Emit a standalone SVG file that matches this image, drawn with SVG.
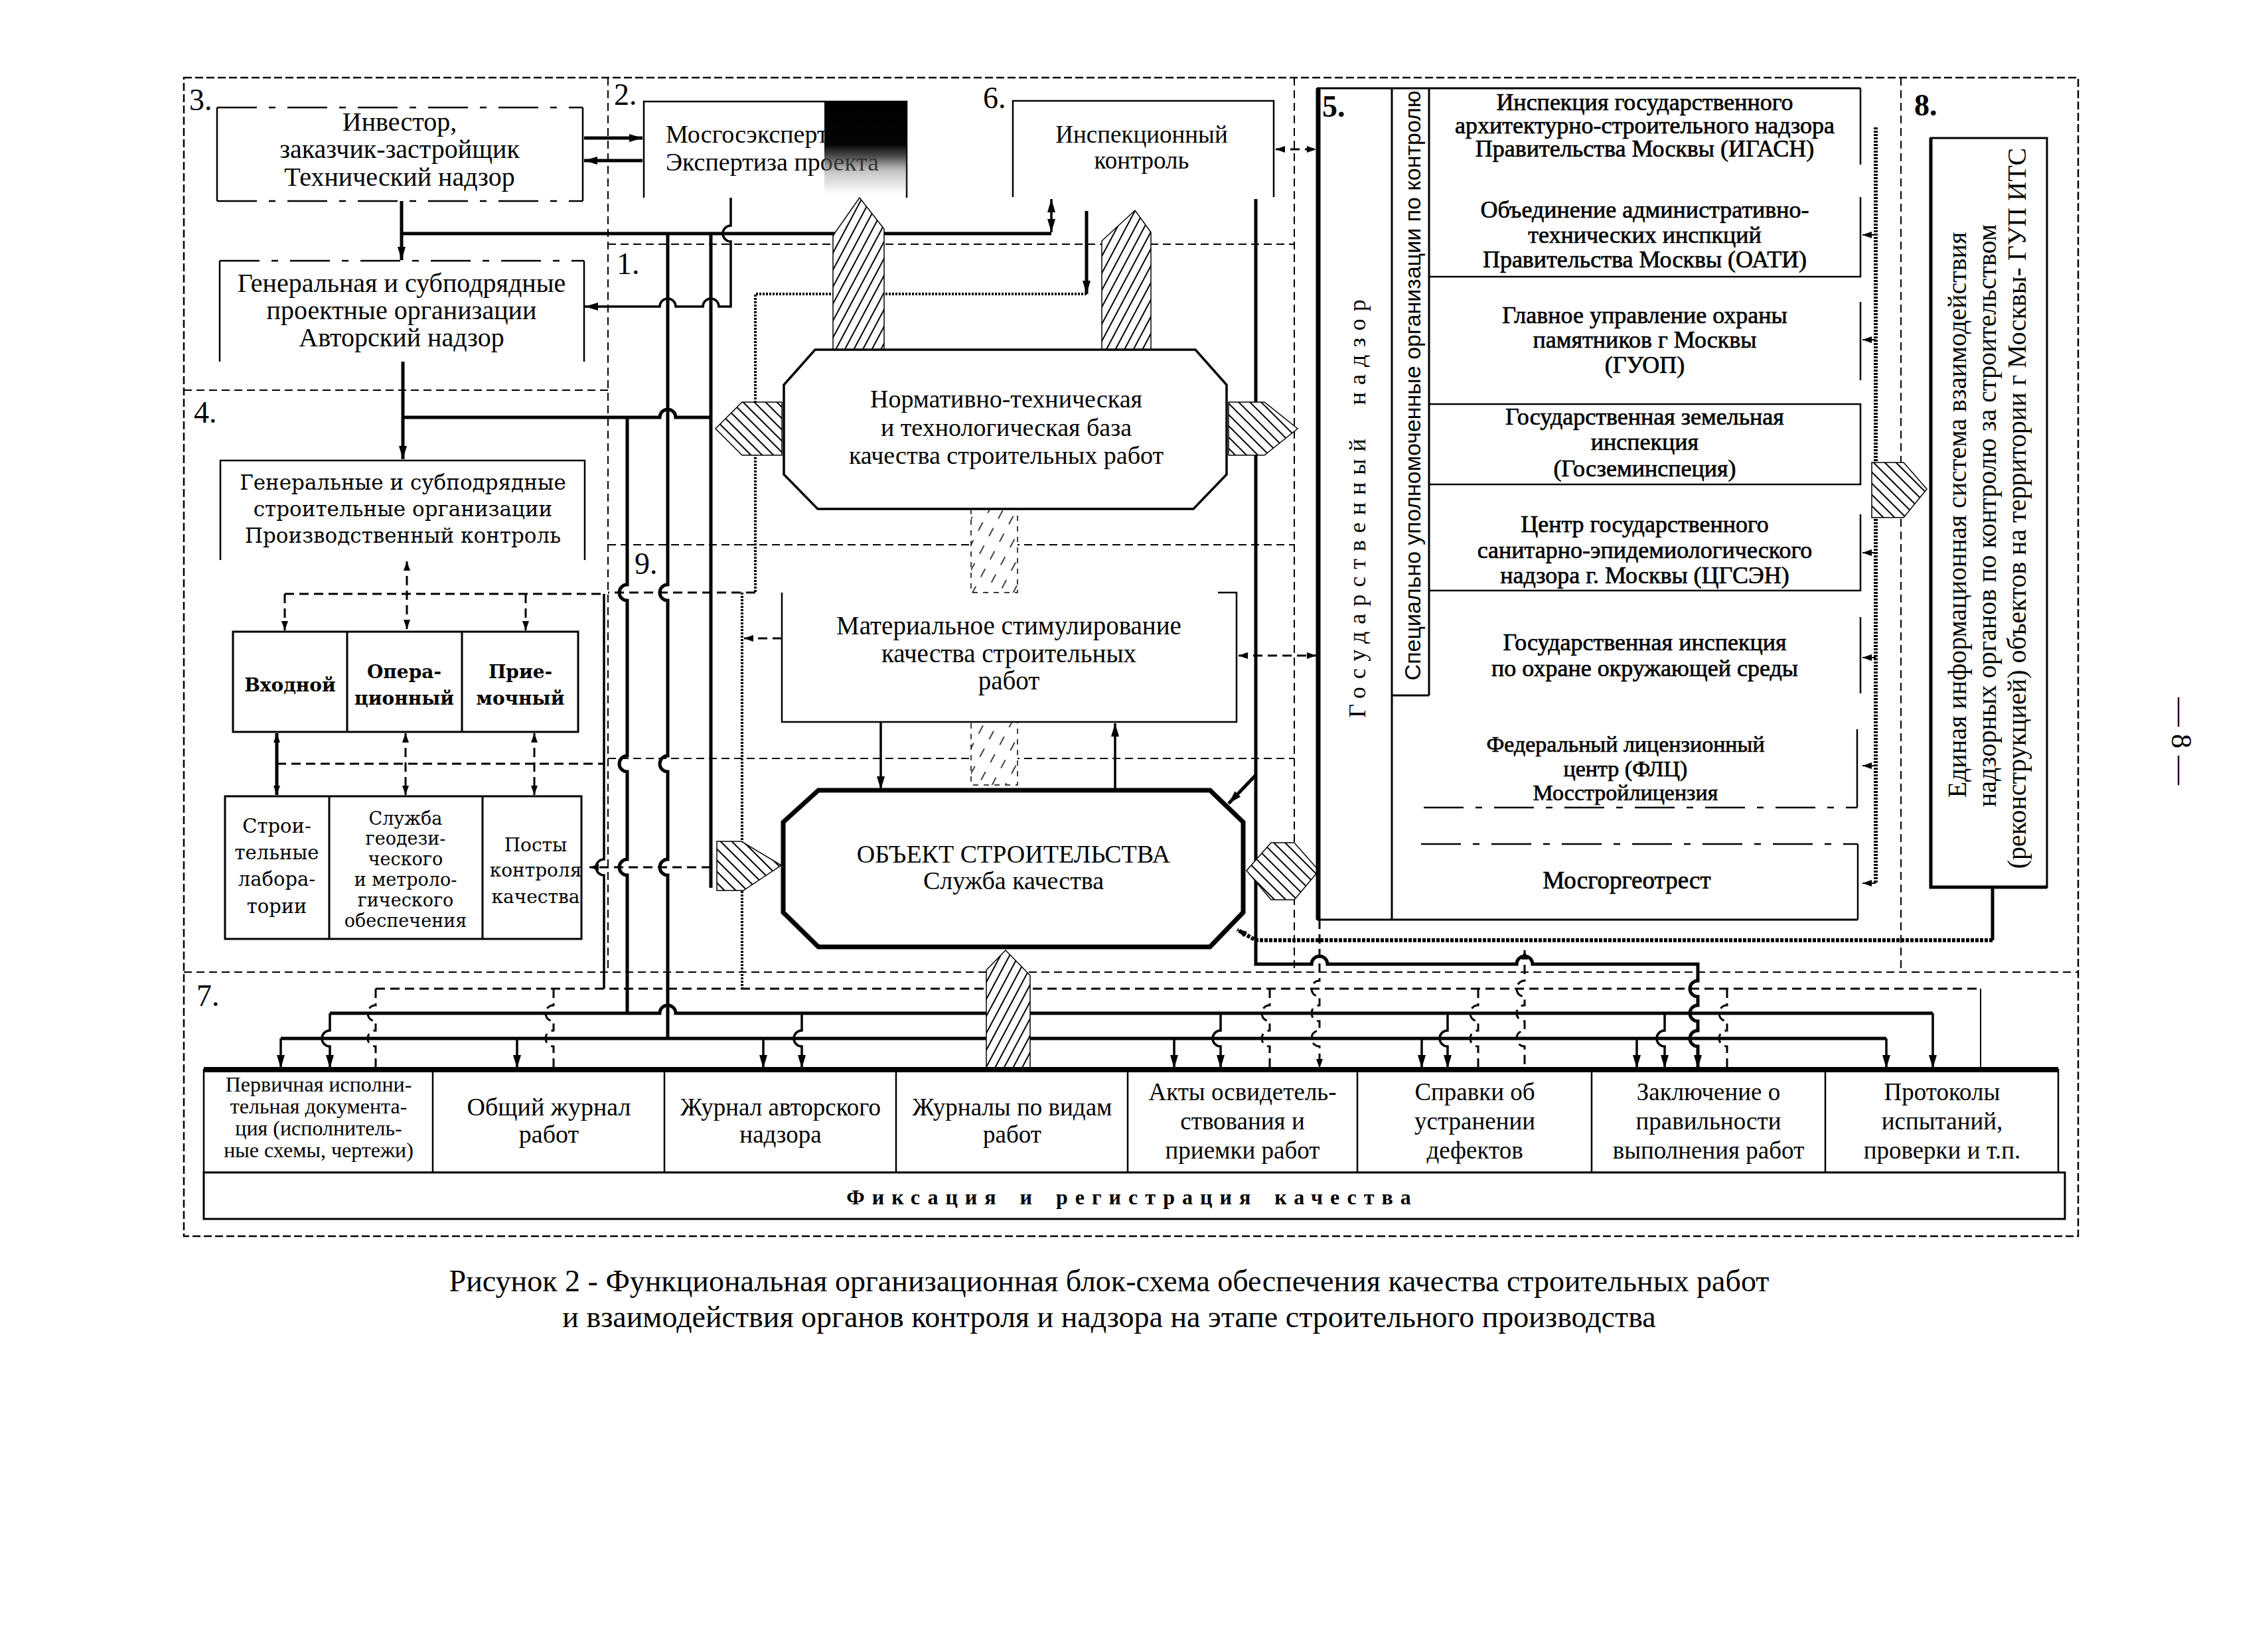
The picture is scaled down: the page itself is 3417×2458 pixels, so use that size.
<svg xmlns="http://www.w3.org/2000/svg" width="3417" height="2458" viewBox="0 0 3417 2458">
<defs>
<style>
.frame{fill:none;stroke:#000;stroke-width:2.5;stroke-dasharray:12 5}
.sep{fill:none;stroke:#000;stroke-width:2;stroke-dasharray:12 7}
.edge{fill:none;stroke:#000;stroke-width:2.5}
.edgeD{fill:none;stroke:#000;stroke-width:2.5;stroke-dasharray:60 18 10 18}
.oct{fill:#fff;stroke:#000;stroke-width:3.5}
.octB{fill:#fff;stroke:#000;stroke-width:7}
.w{fill:none;stroke:#000;stroke-width:5}
.m{fill:none;stroke:#000;stroke-width:3.5}
.t{fill:none;stroke:#000;stroke-width:2}
.dsh{fill:none;stroke:#000;stroke-width:3;stroke-dasharray:14 8}
.dot{fill:none;stroke:#000;stroke-width:4;stroke-dasharray:3 2}
.dotW{fill:none;stroke:#000;stroke-width:6;stroke-dasharray:5 2}
.hs{fill:url(#hs);stroke:#000;stroke-width:1.5}
.hb{fill:url(#hb);stroke:#000;stroke-width:1.5}
.hl{fill:url(#hl);stroke:#000;stroke-width:1.5;stroke-dasharray:8 8}
.ser{font-family:"Liberation Serif","Times New Roman",serif;fill:#000}
.wide{font-family:"DejaVu Serif","Liberation Serif",serif;fill:#000}
.sans{font-family:"Liberation Sans",Arial,sans-serif;fill:#000}
.c{text-anchor:middle}
.hv{stroke:#000;stroke-width:0.7}
.lbl{font-family:"Liberation Serif","Times New Roman",serif;font-size:46px;fill:#000}
</style>
<marker id="ah" viewBox="0 0 20 12" refX="20" refY="6" markerWidth="20" markerHeight="12" markerUnits="userSpaceOnUse" orient="auto-start-reverse"><path d="M0,0 L20,6 L0,12 z" fill="#000"/></marker>
<marker id="as" viewBox="0 0 14 10" refX="14" refY="5" markerWidth="14" markerHeight="10" markerUnits="userSpaceOnUse" orient="auto-start-reverse"><path d="M0,0 L14,5 L0,10 z" fill="#000"/></marker>
<pattern id="hs" patternUnits="userSpaceOnUse" width="12" height="12" patternTransform="rotate(28)"><rect width="12" height="12" fill="#fff"/><line x1="3" y1="0" x2="3" y2="12" stroke="#000" stroke-width="2"/></pattern>
<pattern id="hb" patternUnits="userSpaceOnUse" width="12" height="12" patternTransform="rotate(-45)"><rect width="12" height="12" fill="#fff"/><line x1="3" y1="0" x2="3" y2="12" stroke="#000" stroke-width="2"/></pattern>
<pattern id="hl" patternUnits="userSpaceOnUse" width="18" height="30" patternTransform="rotate(28)"><rect width="18" height="30" fill="#fff"/><line x1="3" y1="0" x2="3" y2="14" stroke="#000" stroke-width="1.5"/></pattern>
<linearGradient id="blob" x1="0" y1="0" x2="0" y2="1"><stop offset="0" stop-color="#000"/><stop offset="0.45" stop-color="#050505"/><stop offset="0.58" stop-color="#333" stop-opacity="0.85"/><stop offset="0.72" stop-color="#777" stop-opacity="0.45"/><stop offset="0.88" stop-color="#aaa" stop-opacity="0.25"/><stop offset="1" stop-color="#fff" stop-opacity="0"/></linearGradient>
</defs>
<rect x="0" y="0" width="3417" height="2458" fill="#fff"/>

<g id="frames">
<rect class="frame" x="277" y="117" width="2854" height="1746"/>
<path class="sep" d="M916,117 V1465 M277,588 H916 M916,368 H1950 M916,821 H1950 M916,1143 H1950 M1950,117 V1465 M2864,117 V1465 M277,1465 H3131"/>
<text class="lbl" x="285" y="166">3.</text>
<text class="lbl" x="925" y="158">2.</text>
<text class="lbl" x="1481" y="163">6.</text>
<text class="lbl" x="929" y="413">1.</text>
<text class="lbl" x="292" y="637">4.</text>
<text class="lbl" x="956" y="865">9.</text>
<text class="lbl" x="296" y="1516">7.</text>
<text class="lbl" x="1992" y="176" font-weight="bold">5.</text>
<text class="lbl" x="2884" y="174" font-weight="bold">8.</text>
</g>

<g id="connectors">
<path class="w" d="M880,208 H968" marker-end="url(#ah)"/>
<path class="w" d="M968,242 H880" marker-end="url(#ah)"/>
<path class="w" d="M605,303 V392" marker-end="url(#ah)"/>
<path class="w" d="M605,352 H1584"/>
<path class="m" d="M1584,350 V300" marker-start="url(#ah)" marker-end="url(#ah)"/>
<path class="w" d="M1006,352 V881 A12,12 0 0 0 1006,905 V1139 A12,12 0 0 0 1006,1163 V1295 A12,12 0 0 0 1006,1319 V1565"/>
<path class="w" d="M945,629 V881 A12,12 0 0 0 945,905 V1139 A12,12 0 0 0 945,1163 V1295 A12,12 0 0 0 945,1319 V1527"/>
<path class="w" d="M1071,352 V1338"/>
<path class="w" d="M607,629 H994 A12,12 0 0 1 1018,629 H1071"/>
<path class="m" d="M1101,298 V340 A12,12 0 0 0 1101,364 V462 H1083 A12,12 0 0 0 1059,462 H1018 A12,12 0 0 0 994,462 H881" marker-end="url(#ah)"/>
<path class="w" d="M607,545 V692" marker-end="url(#ah)"/>
<path class="dsh" d="M613,846 V948" marker-start="url(#as)" marker-end="url(#as)"/>
<path class="dsh" d="M429,895 H910 M1138,893 H916"/>
<path class="dsh" d="M429,895 V950" marker-end="url(#as)"/>
<path class="dsh" d="M792,895 V950" marker-end="url(#as)"/>
<path class="m" d="M910,895 V1295 A12,12 0 0 0 910,1319 V1490"/>
<path class="w" d="M417,1105 V1198" marker-start="url(#as)" marker-end="url(#as)"/>
<path class="dsh" d="M611,1105 V1198" marker-start="url(#as)" marker-end="url(#as)"/>
<path class="dsh" d="M805,1105 V1198" marker-start="url(#as)" marker-end="url(#as)"/>
<path class="dsh" d="M417,1151 H910"/>
<path class="dsh" d="M1071,1307 H888" marker-end="url(#as)"/>
<path class="w" d="M1637,318 V443" marker-end="url(#ah)"/>
<path class="dot" d="M1637,443 H1138 V893"/>
<path class="dot" d="M1118,893 V1490"/>
<path class="dsh" d="M1178,962 H1121" marker-end="url(#as)"/>
<path class="m" d="M1327,1088 V1190" marker-end="url(#ah)"/>
<path class="m" d="M1680,1191 V1090" marker-end="url(#ah)"/>
<path class="dsh" d="M1866,988 H1983" marker-start="url(#as)" marker-end="url(#as)"/>
<path class="dsh" d="M1922,225 H1983" marker-start="url(#as)" marker-end="url(#as)"/>
<path class="w" d="M1892,300 V1453 H1976 A12,12 0 0 1 2000,1453 H2285 A12,12 0 0 1 2309,1453 H2558 V1478 A12,12 0 0 0 2558,1502 V1515 A12,12 0 0 0 2558,1539 V1553 A12,12 0 0 0 2558,1577 V1610" marker-end="url(#ah)"/>
<path class="w" d="M1892,1168 L1851,1211" marker-end="url(#ah)"/>
<path class="w" d="M3002,1338 V1417"/>
<path class="dotW" d="M3002,1417 H1892 L1864,1401" marker-end="url(#as)"/>
<path class="dsh" d="M1988,1386 V1478 A12,12 0 0 0 1988,1502 V1515 A12,12 0 0 0 1988,1539 V1553 A12,12 0 0 0 1988,1577 V1610" marker-end="url(#as)"/>
<path class="dsh" d="M2297,1432 V1478 A12,12 0 0 0 2297,1502 V1515 A12,12 0 0 0 2297,1539 V1553 A12,12 0 0 0 2297,1577 V1610" marker-start="url(#as)"/>
<path class="dsh" d="M566,1490 H2984"/>
<path class="t" d="M2984,1490 V1610"/>
<path class="dsh" d="M566,1490 V1515 A12,12 0 0 0 566,1539 V1553 A12,12 0 0 0 566,1577 V1610 M834,1490 V1515 A12,12 0 0 0 834,1539 V1553 A12,12 0 0 0 834,1577 V1610 M1913,1490 V1515 A12,12 0 0 0 1913,1539 V1553 A12,12 0 0 0 1913,1577 V1610 M2227,1490 V1515 A12,12 0 0 0 2227,1539 V1553 A12,12 0 0 0 2227,1577 V1610 M2602,1490 V1515 A12,12 0 0 0 2602,1539 V1553 A12,12 0 0 0 2602,1577 V1610"/>
<path class="w" d="M497,1527 H994 A12,12 0 0 1 1018,1527 H2912"/>
<path class="w" d="M423,1565 H2842"/>
<g class="m" marker-end="url(#ah)">
<path d="M497,1527 V1553 A12,12 0 0 0 497,1577 V1610"/>
<path d="M1208,1527 V1553 A12,12 0 0 0 1208,1577 V1610"/>
<path d="M1839,1527 V1553 A12,12 0 0 0 1839,1577 V1610"/>
<path d="M2181,1527 V1553 A12,12 0 0 0 2181,1577 V1610"/>
<path d="M2508,1527 V1553 A12,12 0 0 0 2508,1577 V1610"/>
<path d="M2912,1527 V1610"/>
<path d="M423,1565 V1610"/>
<path d="M779,1565 V1610"/>
<path d="M1150,1565 V1610"/>
<path d="M1769,1565 V1610"/>
<path d="M2142,1565 V1610"/>
<path d="M2466,1565 V1610"/>
<path d="M2842,1565 V1610"/>
</g>
<path class="dot" d="M2826,192 V1331" style="stroke-width:6"/>
<g class="t" marker-end="url(#as)">
<path d="M2826,354 H2806"/><path d="M2826,512 H2806"/><path d="M2826,833 H2806"/><path d="M2826,991 H2806"/><path d="M2826,1154 H2806"/><path d="M2826,1331 H2806"/>
</g>
<polygon class="hs" points="1255,527 1255,355 1295,298 1332,345 1332,527"/>
<polygon class="hs" points="1660,527 1660,363 1710,317 1734,350 1734,527"/>
<polygon class="hb" points="1078,646 1118,606 1178,606 1178,686 1118,686"/>
<polygon class="hb" points="1851,606 1905,606 1955,646 1905,686 1851,686"/>
<rect class="hl" x="1463" y="767" width="70" height="126"/>
<rect class="hl" x="1463" y="1088" width="70" height="95"/>
<polygon class="hb" points="1080,1268 1117,1268 1177,1304 1120,1342 1080,1342"/>
<polygon class="hb" points="1878,1312 1915,1270 1950,1270 1987,1312 1950,1356 1915,1356"/>
<polygon class="hs" points="1486,1612 1486,1462 1515,1432 1552,1470 1552,1612"/>
<polygon class="hb" points="2820,697 2868,697 2903,737 2868,780 2820,780"/>
</g>

<g id="n-investor">
<path class="edge" d="M327,162 V303 M878,162 V303"/>
<path class="edgeD" d="M327,162 H878 M327,303 H878"/>
<text class="ser c" font-size="40" x="602" y="197">Инвестор,</text>
<text class="ser c" font-size="40" x="602" y="238">заказчик-застройщик</text>
<text class="ser c" font-size="40" x="602" y="280">Технический надзор</text>
</g>
<g id="n-proj">
<path class="edge" d="M331,393 V545 M880,393 V545"/>
<path class="edgeD" d="M331,393 H880"/>
<text class="ser c" font-size="40" x="605" y="440">Генеральная и субподрядные</text>
<text class="ser c" font-size="40" x="605" y="481">проектные организации</text>
<text class="ser c" font-size="40" x="605" y="522">Авторский надзор</text>
</g>
<g id="n-mosgos">
<path class="edge" d="M970,298 V153 H1366 V298"/>
<text class="ser" font-size="38" x="1003" y="215">Мосгосэкспертиза</text>
<text class="ser" font-size="38" x="1003" y="257">Экспертиза проекта</text>
<rect x="1242" y="153" width="124" height="145" fill="url(#blob)"/>
</g>
<g id="n-inspect">
<path class="edge" d="M1526,297 V152 H1919 V297"/>
<text class="ser c" font-size="37" x="1720" y="215">Инспекционный</text>
<text class="ser c" font-size="37" x="1720" y="254">контроль</text>
</g>
<g id="n-normative">
<polygon class="oct" points="1228,527 1801,527 1848,580 1848,715 1798,767 1232,767 1181,715 1181,580"/>
<text class="ser c" font-size="38" x="1516" y="614">Нормативно-техническая</text>
<text class="ser c" font-size="38" x="1516" y="657">и технологическая база</text>
<text class="ser c" font-size="38" x="1516" y="699">качества строительных работ</text>
</g>
<g id="n-material">
<path class="edge" d="M1178,893 V1088 H1863 V893 H1835"/>
<text class="ser c" font-size="39" x="1520" y="956">Материальное стимулирование</text>
<text class="ser c" font-size="39" x="1520" y="998">качества строительных</text>
<text class="ser c" font-size="39" x="1520" y="1039">работ</text>
</g>
<g id="n-object">
<polygon class="octB" points="1233,1191 1823,1191 1873,1239 1873,1375 1823,1427 1233,1427 1180,1375 1180,1239"/>
<text class="ser c" font-size="38" x="1527" y="1300">ОБЪЕКТ СТРОИТЕЛЬСТВА</text>
<text class="ser c" font-size="38" x="1527" y="1340">Служба качества</text>
</g>
<g id="n-contractors">
<path class="edge" d="M332,844 V694 H881 V844"/>
<text class="wide c" font-size="31" x="607" y="738">Генеральные и субподрядные</text>
<text class="wide c" font-size="31" x="607" y="778">строительные организации</text>
<text class="wide c" font-size="31" x="607" y="818">Производственный контроль</text>
</g>
<g id="n-control">
<rect x="351" y="952" width="520" height="151" fill="#fff" stroke="#000" stroke-width="3"/>
<path class="edge" d="M523,952 V1103 M696,952 V1103" style="stroke-width:3"/>
<text class="wide c" font-size="28" font-weight="bold" x="437" y="1042">Входной</text>
<text class="wide c" font-size="28" font-weight="bold" x="609" y="1022">Опера-</text>
<text class="wide c" font-size="28" font-weight="bold" x="609" y="1062">ционный</text>
<text class="wide c" font-size="28" font-weight="bold" x="784" y="1022">Прие-</text>
<text class="wide c" font-size="28" font-weight="bold" x="784" y="1062">мочный</text>
</g>
<g id="n-labs">
<rect x="339" y="1200" width="537" height="215" fill="#fff" stroke="#000" stroke-width="3"/>
<path class="edge" d="M496,1200 V1415 M727,1200 V1415" style="stroke-width:3"/>
<text class="wide c" font-size="29" x="417" y="1255">Строи-</text>
<text class="wide c" font-size="29" x="417" y="1295">тельные</text>
<text class="wide c" font-size="29" x="417" y="1335">лабора-</text>
<text class="wide c" font-size="29" x="417" y="1376">тории</text>
<text class="wide c" font-size="27" x="611" y="1243">Служба</text>
<text class="wide c" font-size="27" x="611" y="1273">геодези-</text>
<text class="wide c" font-size="27" x="611" y="1304">ческого</text>
<text class="wide c" font-size="27" x="611" y="1335">и метроло-</text>
<text class="wide c" font-size="27" x="611" y="1366">гического</text>
<text class="wide c" font-size="27" x="611" y="1397">обеспечения</text>
<text class="wide c" font-size="28" x="807" y="1283">Посты</text>
<text class="wide c" font-size="28" x="807" y="1321">контроля</text>
<text class="wide c" font-size="28" x="807" y="1361">качества</text>
</g>

<g id="n-gosnadzor">
<path class="edge" d="M1986,133 V1386" style="stroke-width:7"/>
<path class="edge" d="M1984,133 H2803 M1984,1386 H2799 M2097,133 V1386 M2153,133 V1048 M2097,1048 H2153" style="stroke-width:3"/>
<text class="ser c" font-size="36" letter-spacing="11" word-spacing="20" transform="translate(2057,761) rotate(-90)">Государственный надзор</text>
<text class="sans c" font-size="34" transform="translate(2140,581) rotate(-90)">Специально уполномоченные организации по контролю</text>
</g>
<g id="n-igasn">
<path class="edge" d="M2803,133 V248"/>
<text class="ser c hv" font-size="36" x="2478" y="166">Инспекция государственного</text>
<text class="ser c hv" font-size="36" x="2478" y="201">архитектурно-строительного надзора</text>
<text class="ser c hv" font-size="36" x="2478" y="236">Правительства Москвы (ИГАСН)</text>
</g>
<g id="n-oati">
<path class="edge" d="M2803,297 V417 H2153"/>
<text class="ser c hv" font-size="36" x="2478" y="328">Объединение административно-</text>
<text class="ser c hv" font-size="36" x="2478" y="366">технических инспкций</text>
<text class="ser c hv" font-size="36" x="2478" y="403">Правительства Москвы (ОАТИ)</text>
</g>
<g id="n-guop">
<path class="edge" d="M2803,455 V573"/>
<text class="ser c hv" font-size="36" x="2478" y="487">Главное управление охраны</text>
<text class="ser c hv" font-size="36" x="2478" y="524">памятников г  Москвы</text>
<text class="ser c hv" font-size="36" x="2478" y="562">(ГУОП)</text>
</g>
<g id="n-goszem">
<path class="edge" d="M2153,609 H2803 V730 H2153"/>
<text class="ser c hv" font-size="36" x="2478" y="640">Государственная земельная</text>
<text class="ser c hv" font-size="36" x="2478" y="678">инспекция</text>
<text class="ser c hv" font-size="36" x="2478" y="718">(Госземинспеция)</text>
</g>
<g id="n-cgsen">
<path class="edge" d="M2803,775 V890 H2153"/>
<text class="ser c hv" font-size="36" x="2478" y="802">Центр государственного</text>
<text class="ser c hv" font-size="36" x="2478" y="841">санитарно-эпидемиологического</text>
<text class="ser c hv" font-size="36" x="2478" y="879">надзора г. Москвы (ЦГСЭН)</text>
</g>
<g id="n-eco">
<path class="edge" d="M2803,930 V1045"/>
<text class="ser c hv" font-size="36" x="2478" y="980">Государственная инспекция</text>
<text class="ser c hv" font-size="36" x="2478" y="1019">по охране окружающей среды</text>
</g>
<g id="n-flc">
<path class="edge" d="M2798,1099 V1217"/>
<path class="edgeD" d="M2145,1217 H2798"/>
<text class="ser c hv" font-size="34" x="2449" y="1133">Федеральный лицензионный</text>
<text class="ser c hv" font-size="34" x="2449" y="1170">центр (ФЛЦ)</text>
<text class="ser c hv" font-size="34" x="2449" y="1206">Мосстройлицензия</text>
</g>
<g id="n-geotrest">
<path class="edgeD" d="M2141,1272 H2799"/>
<path class="edge" d="M2799,1272 V1386"/>
<text class="ser c hv" font-size="37" x="2451" y="1339">Мосгоргеотрест</text>
</g>
<g id="n-its">
<rect x="2909" y="208" width="175" height="1129" fill="#fff" stroke="#000" stroke-width="3"/>
<path d="M2909,208 V1337 H3084" fill="none" stroke="#000" stroke-width="5"/>
<text class="ser c" font-size="40" transform="translate(2962,776) rotate(-90)">Единая информационная система взаимодействия</text>
<text class="ser c" font-size="40" transform="translate(3007,777) rotate(-90)">надзорных органов по контролю за строительством</text>
<text class="ser c" font-size="40" transform="translate(3052,766) rotate(-90)">(реконструкцией) объектов на территории г  Москвы- ГУП ИТС</text>
</g>

<g id="n-records">
<rect x="307" y="1612" width="2794" height="155" fill="#fff" stroke="#000" stroke-width="2.5"/>
<path d="M307,1612 H3101" stroke="#000" stroke-width="8"/>
<path class="edge" d="M652,1612 V1767 M1001,1612 V1767 M1350,1612 V1767 M1699,1612 V1767 M2045,1612 V1767 M2398,1612 V1767 M2750,1612 V1767"/>
<text class="ser c" font-size="32" x="480" y="1645">Первичная исполни-</text>
<text class="ser c" font-size="32" x="480" y="1678">тельная документа-</text>
<text class="ser c" font-size="32" x="480" y="1711">ция (исполнитель-</text>
<text class="ser c" font-size="32" x="480" y="1744">ные схемы, чертежи)</text>
<text class="ser c" font-size="38" x="827" y="1681">Общий журнал</text>
<text class="ser c" font-size="38" x="827" y="1722">работ</text>
<text class="ser c" font-size="37" x="1176" y="1681">Журнал авторского</text>
<text class="ser c" font-size="37" x="1176" y="1722">надзора</text>
<text class="ser c" font-size="37" x="1525" y="1681">Журналы по видам</text>
<text class="ser c" font-size="37" x="1525" y="1722">работ</text>
<text class="ser c" font-size="37" x="1872" y="1658">Акты освидетель-</text>
<text class="ser c" font-size="37" x="1872" y="1702">ствования и</text>
<text class="ser c" font-size="37" x="1872" y="1746">приемки работ</text>
<text class="ser c" font-size="37" x="2222" y="1658">Справки об</text>
<text class="ser c" font-size="37" x="2222" y="1702">устранении</text>
<text class="ser c" font-size="37" x="2222" y="1746">дефектов</text>
<text class="ser c" font-size="37" x="2574" y="1658">Заключение о</text>
<text class="ser c" font-size="37" x="2574" y="1702">правильности</text>
<text class="ser c" font-size="37" x="2574" y="1746">выполнения работ</text>
<text class="ser c" font-size="37" x="2926" y="1658">Протоколы</text>
<text class="ser c" font-size="37" x="2926" y="1702">испытаний,</text>
<text class="ser c" font-size="37" x="2926" y="1746">проверки и т.п.</text>
</g>
<g id="n-fixation">
<rect x="307" y="1767" width="2804" height="70" fill="#fff" stroke="#000" stroke-width="3"/>
<text class="ser c" font-size="32" font-weight="bold" letter-spacing="11" word-spacing="6" x="1706" y="1815">Фиксация и регистрация качества</text>
</g>

<g id="caption">
<text class="ser c" font-size="46" x="1671" y="1946">Рисунок 2 - Функциональная организационная блок-схема обеспечения качества строительных работ</text>
<text class="ser c" font-size="46" x="1671" y="2000">и взаимодействия органов контроля и надзора на этапе строительного производства</text>
<text class="ser c" font-size="44" transform="translate(3272,1117) rotate(90)">— 8 —</text>
</g>
</svg>
